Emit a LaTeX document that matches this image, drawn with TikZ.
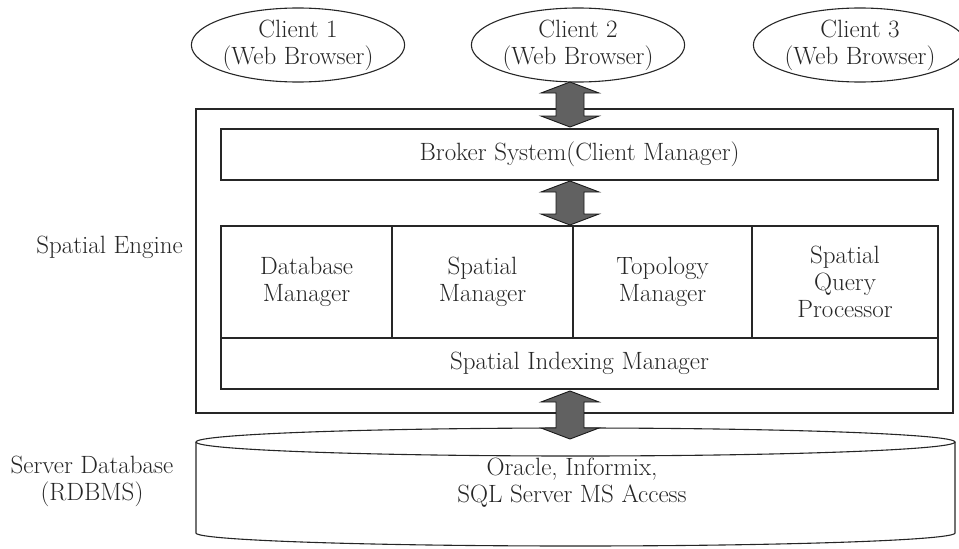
\documentclass[tikz,border=0pt]{standalone}
\usetikzlibrary{shapes.geometric,calc}
\begin{document}
\begin{tikzpicture}[x=1pt,y=-1pt,
  every node/.style={font=\fontsize{25}{27}\selectfont, text=black!85},
  line/.style={draw=black!85, line width=1.1pt},
  client/.style={line, ellipse, minimum width=206pt, minimum height=74pt, inner sep=0pt, align=center},
  box/.style={line, rectangle, inner sep=0pt, align=center},
  lbl/.style={align=center, inner sep=0pt},
  fatarrow/.style={draw=black!90, line width=0.9pt, fill=black!62,
    to path={let \p1=(\tikztostart), \p2=(\tikztotarget) in
      (\x1,\y1) -- (\x1-29pt,\y1-11pt) -- (\x1-14pt,\y1-11pt) -- (\x1-14pt,\y2+11pt)
      -- (\x1-29pt,\y2+11pt) -- (\x1,\y2) -- (\x1+29pt,\y2+11pt) -- (\x1+14pt,\y2+11pt)
      -- (\x1+14pt,\y1-11pt) -- (\x1+29pt,\y1-11pt) -- cycle}}
]
\useasboundingbox (0,0) rectangle (959,549);

% clients
\node[client] (c1) at (298,45) {Client 1\\(Web Browser)};
\node[client] (c2) at (578,45) {Client 2\\(Web Browser)};
\node[client] (c3) at (860,45) {Client 3\\(Web Browser)};

% spatial engine outer box
\node[box, minimum width=757pt, minimum height=304pt] (engine) at (574.5,261) {};
\node[lbl, anchor=east] (englbl) at (183,247) {Spatial Engine};

% broker
\node[box, minimum width=717pt, minimum height=51pt] (broker) at (579.5,154.5) {Broker System(Client Manager)};

% manager cells
\node[box, minimum width=171pt, minimum height=112pt] (dbm) at (306.5,282) {Database\\Manager};
\node[box, minimum width=181pt, minimum height=112pt] (spm) at (482.5,282) {Spatial\\Manager};
\node[box, minimum width=179pt, minimum height=112pt] (tpm) at (662.5,282) {Topology\\Manager};
\node[box, minimum width=186pt, minimum height=112pt] (sqp) at (845,282) {Spatial\\Query\\Processor};
\node[box, minimum width=717pt, minimum height=51pt] (idx) at (579.5,363.5) {Spatial Indexing Manager};

% database cylinder
\draw[line] (196,442) -- (196,533) arc[start angle=180, end angle=360, x radius=379.5pt, y radius=13pt] -- (955,442);
\draw[line, fill=white] (575.5,442) ellipse [x radius=379.5pt, y radius=14pt];
\node[lbl] (dbtext) at (572,483) {Oracle, Informix,\\SQL Server MS Access};
\node[lbl] (dblbl) at (92,481) {Server Database\\(RDBMS)};

% connector end points
\coordinate (a1t) at (570,82);
\coordinate (a1b) at (570,127);
\coordinate (a2t) at (570,181);
\coordinate (a2b) at (570,225);
\coordinate (a3t) at (570,391);
\coordinate (a3b) at (570,439);

\path[fatarrow] (a1t) to (a1b);
\path[fatarrow] (a2t) to (a2b);
\path[fatarrow] (a3t) to (a3b);
\end{tikzpicture}
\end{document}
